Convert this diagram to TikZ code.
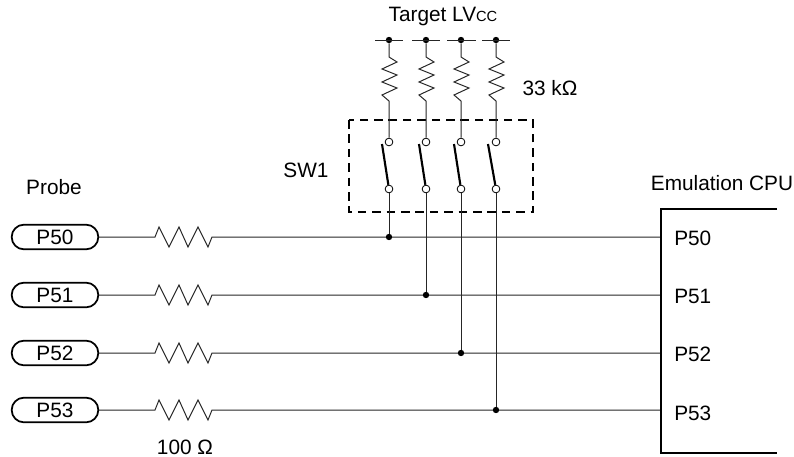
\documentclass[tikz,border=0pt]{standalone}
\usepackage{fontspec}
\setmainfont{Liberation Sans}
\usetikzlibrary{shapes.misc}

\tikzset{
    wire/.style={line width=0.75pt, black!85},
    heavy/.style={line width=1.6pt, black},
    dot/.style={circle, fill=black, inner sep=0pt, minimum size=4.8pt},
    contact/.style={circle, draw, fill=white, line width=0.6pt, inner sep=0pt, minimum size=5.8pt},
    pill/.style={rounded rectangle, draw, line width=1.3pt, inner sep=0pt, minimum width=65pt, minimum height=18.5pt},
    boxline/.style={line width=1.2pt, dash pattern=on 6.4pt off 4.4pt},
    label/.style={inner sep=0pt, font=\fontsize{15.6}{18}\selectfont}
}

\begin{document}
\begin{tikzpicture}[x=0.75pt, y=-0.75pt]
            \useasboundingbox (0,0) rectangle (794,457);

            % supply
            \node[dot] (v1) at (389,40) {};
            \node[dot] (v2) at (426,40) {};
            \node[dot] (v3) at (461,40) {};
            \node[dot] (v4) at (496,40) {};
            \coordinate (v1l) at (375,40);
            \coordinate (v1r) at (403,40);
            \coordinate (v2l) at (412,40);
            \coordinate (v2r) at (440,40);
            \coordinate (v3l) at (447,40);
            \coordinate (v3r) at (476,40);
            \coordinate (v4l) at (482,40);
            \coordinate (v4r) at (510,40);
            \draw[wire] (v1l) -- (v1r);
            \draw[wire] (v2l) -- (v2r);
            \draw[wire] (v3l) -- (v3r);
            \draw[wire] (v4l) -- (v4r);

            % switch contacts
            \node[contact] (t1) at (389,142) {};
            \node[contact] (t2) at (426,142) {};
            \node[contact] (t3) at (461,142) {};
            \node[contact] (t4) at (496,142) {};
            \node[contact] (b1) at (389,189) {};
            \node[contact] (b2) at (426,189) {};
            \node[contact] (b3) at (461,189) {};
            \node[contact] (b4) at (496,189) {};

            \draw[boxline] (349,120) rectangle (533,212);

            % pull-ups
            \draw[wire] (v1) -- ++(0,17) -- ++(8,5) -- ++(-15,7) -- ++(15,6) -- ++(-15,7) -- ++(15,6) -- ++(-15,7) -- ++(7,6) -- (t1);
            \draw[wire] (v2) -- ++(0,17) -- ++(8,5) -- ++(-15,7) -- ++(15,6) -- ++(-15,7) -- ++(15,6) -- ++(-15,7) -- ++(7,6) -- (t2);
            \draw[wire] (v3) -- ++(0,17) -- ++(8,5) -- ++(-15,7) -- ++(15,6) -- ++(-15,7) -- ++(15,6) -- ++(-15,7) -- ++(7,6) -- (t3);
            \draw[wire] (v4) -- ++(0,17) -- ++(8,5) -- ++(-15,7) -- ++(15,6) -- ++(-15,7) -- ++(15,6) -- ++(-15,7) -- ++(7,6) -- (t4);

            % switch blades
            \coordinate (s1) at (382,144);
            \coordinate (s2) at (419,144);
            \coordinate (s3) at (454,144);
            \coordinate (s4) at (488,144);
            \draw[heavy] (s1) -- (b1);
            \draw[heavy] (s2) -- (b2);
            \draw[heavy] (s3) -- (b3);
            \draw[heavy] (s4) -- (b4);

            % probe side
            \node[pill, label] (p50) at (55,237) {P50};
            \node[pill, label] (p51) at (55,295) {P51};
            \node[pill, label] (p52) at (55,353) {P52};
            \node[pill, label] (p53) at (55,410) {P53};

            % cpu side
            \coordinate (c50) at (661,237);
            \coordinate (c51) at (661,295);
            \coordinate (c52) at (661,353);
            \coordinate (c53) at (661,410);

            % series resistors
            \draw[wire] (p50) -- (155,237) -- ++(4,-10) -- ++(10,20) -- ++(10,-20) -- ++(9,20) -- ++(10,-20) -- ++(10,20) -- ++(4,-10) -- (c50);
            \draw[wire] (p51) -- (155,295) -- ++(4,-10) -- ++(10,20) -- ++(10,-20) -- ++(9,20) -- ++(10,-20) -- ++(10,20) -- ++(4,-10) -- (c51);
            \draw[wire] (p52) -- (155,353) -- ++(4,-10) -- ++(10,20) -- ++(10,-20) -- ++(9,20) -- ++(10,-20) -- ++(10,20) -- ++(4,-10) -- (c52);
            \draw[wire] (p53) -- (155,410) -- ++(4,-10) -- ++(10,20) -- ++(10,-20) -- ++(9,20) -- ++(10,-20) -- ++(10,20) -- ++(4,-10) -- (c53);

            % junctions
            \node[dot] (j1) at (389,237) {};
            \node[dot] (j2) at (426,295) {};
            \node[dot] (j3) at (461,353) {};
            \node[dot] (j4) at (496,410) {};
            \draw[wire] (b1) -- (j1);
            \draw[wire] (b2) -- (j2);
            \draw[wire] (b3) -- (j3);
            \draw[wire] (b4) -- (j4);

            \draw[heavy] (777,209) -- (661,209) -- (661,453) -- (777,453);

            \node[label] (target) at (443,17) {Target LV{\fontsize{11}{12}\selectfont CC}};
            \node[label] (pullup) at (550,88) {33 kΩ};
            \node[label] (sw) at (306,170) {SW1};
            \node[label] (probe) at (54,187) {Probe};
            \node[label] (cpu) at (722,183) {Emulation CPU};
            \node[label] (series) at (185,447) {100 Ω};

            \node[label, anchor=west] (q50) at (674,238) {P50};
            \node[label, anchor=west] (q51) at (674,296) {P51};
            \node[label, anchor=west] (q52) at (674,354) {P52};
            \node[label, anchor=west] (q53) at (674,413) {P53};
\end{tikzpicture}
\end{document}
